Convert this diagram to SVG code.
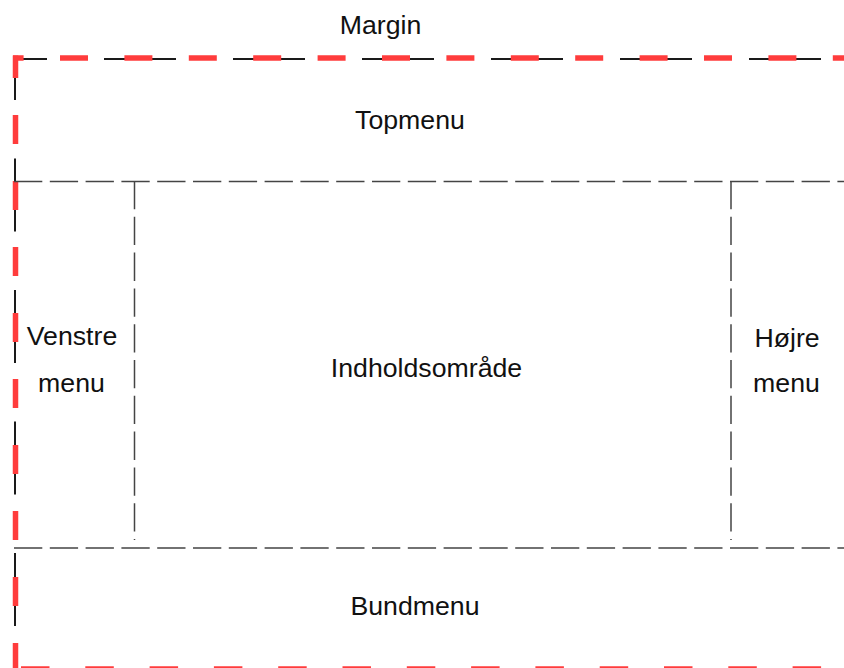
<svg xmlns="http://www.w3.org/2000/svg" width="844" height="668" viewBox="0 0 844 668">
  <style>
    .lbl { font-family: "Liberation Sans", Arial, sans-serif; font-size: 26.7px; fill: #111; text-anchor: middle; }
    .outer { stroke: #1a1a1a; stroke-width: 2; fill: none; }
    .margin { stroke: #ff3c3c; stroke-width: 5.5; fill: none; }
    .inner { stroke: #444; stroke-width: 1.5; fill: none; stroke-dasharray: 28.3 7.5; }
  </style>
  <rect width="844" height="668" fill="#ffffff"/>
  <g id="connectors">
    <!-- page outline (black dashed) -->
    <line class="outer" x1="15" y1="59" x2="844" y2="59" stroke-dasharray="72 57" stroke-dashoffset="40"/>
    <line class="outer" x1="15" y1="59" x2="15" y2="668" stroke-dasharray="73 58.5" stroke-dashoffset="32"/>
    <!-- margin (red dashed) -->
    <line class="margin" x1="13" y1="58" x2="844" y2="58" stroke-dasharray="28 36.4" stroke-dashoffset="17.4"/>
    <line class="margin" x1="15.5" y1="55.5" x2="15.5" y2="668" stroke-dasharray="29 37" stroke-dashoffset="6.5"/>
    <line class="margin" x1="21" y1="669" x2="844" y2="669" stroke-dasharray="28.5 35.8"/>
    <!-- inner region dividers -->
    <line class="inner" x1="14" y1="181.5" x2="844" y2="181.5"/>
    <line class="inner" x1="14" y1="548" x2="844" y2="548"/>
    <line class="inner" x1="134.5" y1="181" x2="134.5" y2="540" stroke-dasharray="28.5 8"/>
    <line class="inner" x1="731" y1="181" x2="731" y2="540" stroke-dasharray="28.5 8"/>
  </g>
  <g id="margin">
    <text class="lbl" x="380.5" y="34">Margin</text>
  </g>
  <g id="topmenu">
    <text class="lbl" x="410" y="129">Topmenu</text>
  </g>
  <g id="venstre-menu">
    <text class="lbl" x="72" y="345">Venstre</text>
    <text class="lbl" x="71.5" y="392">menu</text>
  </g>
  <g id="indholdsomraade">
    <text class="lbl" x="426.5" y="377">Indholdsområde</text>
  </g>
  <g id="hoejre-menu">
    <text class="lbl" x="787" y="347">Højre</text>
    <text class="lbl" x="786.5" y="392">menu</text>
  </g>
  <g id="bundmenu">
    <text class="lbl" x="415" y="615">Bundmenu</text>
  </g>
</svg>
